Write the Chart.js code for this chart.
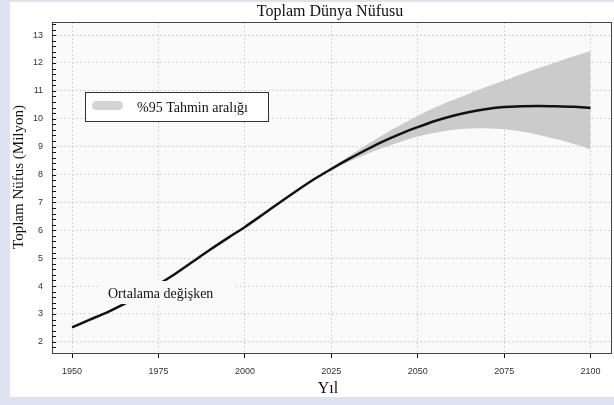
<!DOCTYPE html>
<html>
<head>
<meta charset="utf-8">
<script src="https://cdn.jsdelivr.net/npm/chart.js@4"></script>
<style>
  html, body { margin: 0; padding: 0; background: #dfe3f1; }
  #wrap { width: 614px; height: 405px; }
</style>
</head>
<body>
<div id="wrap"><canvas id="myChart" width="614" height="405"></canvas></div>
<script>
    // yillar ve medyan nufus (milyar)
    const years = [1950, 1955, 1960, 1965, 1970, 1975, 1980, 1985, 1990, 1995, 2000, 2005, 2010, 2015, 2020,
                   2025, 2030, 2035, 2040, 2045, 2050, 2055, 2060, 2065, 2070, 2075, 2080, 2085, 2090, 2095, 2100];
    const median = [2.52, 2.79, 3.05, 3.35, 3.69, 4.06, 4.45, 4.88, 5.31, 5.72, 6.12, 6.55, 6.99, 7.42, 7.83,
                    8.20, 8.55, 8.88, 9.19, 9.46, 9.70, 9.92, 10.10, 10.24, 10.35, 10.42, 10.45, 10.46, 10.45, 10.43, 10.39];

    // %95 tahmin araligi
    const bandYears = [2020, 2025, 2030, 2035, 2040, 2045, 2050, 2055, 2060, 2065, 2070, 2075, 2080, 2085, 2090, 2095, 2100];
    const lower = [7.83, 8.15, 8.46, 8.72, 8.96, 9.17, 9.36, 9.50, 9.60, 9.65, 9.66, 9.62, 9.54, 9.42, 9.27, 9.10, 8.90];
    const upper = [7.83, 8.25, 8.65, 9.05, 9.43, 9.78, 10.10, 10.40, 10.66, 10.91, 11.15, 11.37, 11.60, 11.82, 12.03, 12.23, 12.43];

    const yTicks = [2, 3, 4, 5, 6, 7, 8, 9, 10, 11, 12, 13];
    const xTicks = [1950, 1975, 2000, 2025, 2050, 2075, 2100];

    const serif = "'Liberation Serif', 'DejaVu Serif', serif";
    const sans = "'Liberation Sans', Arial, sans-serif";

    const pts = (xs, ys) => xs.map((x, i) => ({x: x, y: ys[i]}));

    const decor = {
        id: 'decor',
        beforeDraw(chart) {
            const ctx = chart.ctx;
            const a = chart.chartArea;
            ctx.save();
            ctx.fillStyle = '#dfe3f1';
            ctx.fillRect(0, 0, chart.width, chart.height);
            ctx.fillStyle = '#ffffff';
            ctx.fillRect(10, 2, chart.width - 10, 395);
            ctx.fillStyle = '#fafafa';
            ctx.fillRect(a.left, a.top, a.right - a.left, a.bottom - a.top);
            ctx.restore();
        },
        afterDatasetsDraw(chart) {
            const ctx = chart.ctx;
            const a = chart.chartArea;
            const y = chart.scales.y;
            ctx.save();
            // etiket arkasi
            ctx.fillStyle = '#fafafa';
            ctx.fillRect(98, 281, 136, 23);
            ctx.fillStyle = '#111';
            ctx.font = '14px ' + serif;
            ctx.textBaseline = 'middle';
            ctx.fillText('Ortalama değişken', 108, 294);

            // legend
            ctx.fillStyle = '#ffffff';
            ctx.fillRect(85.5, 92.5, 183, 29);
            ctx.strokeStyle = '#333';
            ctx.lineWidth = 1;
            ctx.strokeRect(85.5, 92.5, 183, 29);
            ctx.fillStyle = '#d3d3d3';
            ctx.beginPath();
            ctx.roundRect(92, 101, 31, 9, 4.5);
            ctx.fill();
            ctx.fillStyle = '#111';
            ctx.fillText('%95 Tahmin aralığı', 137, 108);

            // cerceve
            ctx.strokeStyle = '#444';
            ctx.strokeRect(a.left + 0.5, a.top + 0.5, a.right - a.left - 1, a.bottom - a.top);

            // kucuk tikler
            ctx.strokeStyle = '#111';
            for (let k = 9; k <= 67; k++) {
                const py = Math.round(y.getPixelForValue(k * 0.2)) + 0.5;
                ctx.beginPath();
                ctx.moveTo(a.left, py);
                ctx.lineTo(a.left + 4, py);
                ctx.stroke();
            }

            // basliklar
            ctx.fillStyle = '#111';
            ctx.textAlign = 'center';
            ctx.font = '16px ' + serif;
            ctx.fillText('Toplam Dünya Nüfusu', 330, 12);
            ctx.fillText('Yıl', 328, 389);
            ctx.font = '15px ' + serif;
            ctx.translate(19, 177);
            ctx.rotate(-Math.PI / 2);
            ctx.fillText('Toplam Nüfus (Milyon)', 0, 0);
            ctx.restore();
        }
    };

    const data = {
        datasets: [{
            label: 'Ortalama',
            data: pts(years, median),
            borderColor: '#111',
            borderWidth: 2.5,
            pointRadius: 0,
            tension: 0.3,
            fill: false
        }, {
            label: 'alt',
            data: pts(bandYears, lower),
            borderWidth: 0,
            borderColor: 'rgba(0,0,0,0)',
            pointRadius: 0,
            tension: 0.3,
            fill: false
        }, {
            label: '%95 Tahmin aralığı',
            data: pts(bandYears, upper),
            borderWidth: 0,
            borderColor: 'rgba(0,0,0,0)',
            backgroundColor: '#cbcbcb',
            pointRadius: 0,
            tension: 0.3,
            fill: '-1'
        }]
    };

    const config = {
        type: 'line',
        data: data,
        options: {
            responsive: false,
            animation: false,
            layout: {padding: {left: 10, top: 22, right: 2, bottom: 0}},
            plugins: {legend: {display: false}, tooltip: {enabled: false}},
            scales: {
                x: {
                    type: 'linear',
                    min: 1944.2,
                    max: 2106.2,
                    afterBuildTicks: s => { s.ticks = xTicks.map(v => ({value: v})); },
                    afterFit: s => { s.height = 52; },
                    border: {display: false, dash: [2, 2]},
                    grid: {color: '#d4d4d4', tickColor: '#111', tickLength: 5, tickBorderDash: []},
                    ticks: {padding: 8, color: '#333', font: {family: sans, size: 9}, maxRotation: 0, callback: v => String(v)}
                },
                y: {
                    min: 1.6,
                    max: 13.47,
                    afterBuildTicks: s => { s.ticks = yTicks.map(v => ({value: v})); },
                    afterFit: s => { s.width = 42; },
                    border: {display: false, dash: [2, 2]},
                    grid: {color: '#d4d4d4', drawTicks: false},
                    ticks: {padding: 9, color: '#333', font: {family: sans, size: 9}}
                }
            }
        },
        plugins: [decor]
    };

    const myChart = new Chart(document.getElementById('myChart'), config);
</script>
</body>
</html>
